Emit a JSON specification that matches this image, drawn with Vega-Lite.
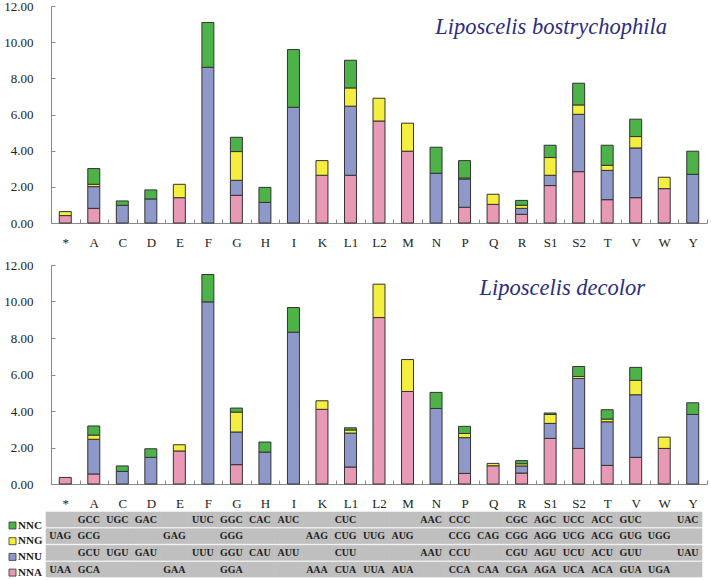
{
  "$schema": "https://vega.github.io/schema/vega-lite/v6.json",
  "padding": {"left": 3, "top": 0, "right": 0, "bottom": 0},
  "background": "white",
  "config": {
    "view": {"stroke": null},
    "axisX": {"labelAngle": 0, "labelFont": "Liberation Serif", "labelFontSize": 13, "labelColor": "#222", "domainColor": "#888", "tickColor": "#888", "tickBand": "extent", "tickSize": -4, "labelPadding": 17, "title": null, "grid": false},
    "axisY": {"labelFont": "Liberation Serif", "labelFontSize": 13, "labelColor": "#222", "domainColor": "#888", "ticks": true, "tickSize": -4, "tickColor": "#888", "labelPadding": 22, "title": null, "grid": false}
  },
  "datasets": {
    "classes": [
      {"cls": "NNA", "stackRank": 0}, {"cls": "NNU", "stackRank": 1}, {"cls": "NNG", "stackRank": 2}, {"cls": "NNC", "stackRank": 3}
    ],
    "bars": [
      {"sp": "LB", "aa": "*", "cls": "NNA", "v": 0.41}, {"sp": "LB", "aa": "*", "cls": "NNG", "v": 0.22},
      {"sp": "LB", "aa": "A", "cls": "NNA", "v": 0.81}, {"sp": "LB", "aa": "A", "cls": "NNU", "v": 1.20}, {"sp": "LB", "aa": "A", "cls": "NNG", "v": 0.13}, {"sp": "LB", "aa": "A", "cls": "NNC", "v": 0.87},
      {"sp": "LB", "aa": "C", "cls": "NNU", "v": 0.98}, {"sp": "LB", "aa": "C", "cls": "NNC", "v": 0.24},
      {"sp": "LB", "aa": "D", "cls": "NNU", "v": 1.33}, {"sp": "LB", "aa": "D", "cls": "NNC", "v": 0.50},
      {"sp": "LB", "aa": "E", "cls": "NNA", "v": 1.40}, {"sp": "LB", "aa": "E", "cls": "NNG", "v": 0.74},
      {"sp": "LB", "aa": "F", "cls": "NNU", "v": 8.61}, {"sp": "LB", "aa": "F", "cls": "NNC", "v": 2.48},
      {"sp": "LB", "aa": "G", "cls": "NNA", "v": 1.53}, {"sp": "LB", "aa": "G", "cls": "NNU", "v": 0.83}, {"sp": "LB", "aa": "G", "cls": "NNG", "v": 1.59}, {"sp": "LB", "aa": "G", "cls": "NNC", "v": 0.79},
      {"sp": "LB", "aa": "H", "cls": "NNU", "v": 1.14}, {"sp": "LB", "aa": "H", "cls": "NNC", "v": 0.83},
      {"sp": "LB", "aa": "I", "cls": "NNU", "v": 6.40}, {"sp": "LB", "aa": "I", "cls": "NNC", "v": 3.19},
      {"sp": "LB", "aa": "K", "cls": "NNA", "v": 2.64}, {"sp": "LB", "aa": "K", "cls": "NNG", "v": 0.81},
      {"sp": "LB", "aa": "L1", "cls": "NNA", "v": 2.64}, {"sp": "LB", "aa": "L1", "cls": "NNU", "v": 3.82}, {"sp": "LB", "aa": "L1", "cls": "NNG", "v": 1.01}, {"sp": "LB", "aa": "L1", "cls": "NNC", "v": 1.53},
      {"sp": "LB", "aa": "L2", "cls": "NNA", "v": 5.64}, {"sp": "LB", "aa": "L2", "cls": "NNG", "v": 1.26},
      {"sp": "LB", "aa": "M", "cls": "NNA", "v": 3.97}, {"sp": "LB", "aa": "M", "cls": "NNG", "v": 1.55},
      {"sp": "LB", "aa": "N", "cls": "NNU", "v": 2.75}, {"sp": "LB", "aa": "N", "cls": "NNC", "v": 1.44},
      {"sp": "LB", "aa": "P", "cls": "NNA", "v": 0.87}, {"sp": "LB", "aa": "P", "cls": "NNU", "v": 1.56}, {"sp": "LB", "aa": "P", "cls": "NNG", "v": 0.06}, {"sp": "LB", "aa": "P", "cls": "NNC", "v": 0.96},
      {"sp": "LB", "aa": "Q", "cls": "NNA", "v": 1.03}, {"sp": "LB", "aa": "Q", "cls": "NNG", "v": 0.56},
      {"sp": "LB", "aa": "R", "cls": "NNA", "v": 0.48}, {"sp": "LB", "aa": "R", "cls": "NNU", "v": 0.33}, {"sp": "LB", "aa": "R", "cls": "NNG", "v": 0.17}, {"sp": "LB", "aa": "R", "cls": "NNC", "v": 0.27},
      {"sp": "LB", "aa": "S1", "cls": "NNA", "v": 2.07}, {"sp": "LB", "aa": "S1", "cls": "NNU", "v": 0.57}, {"sp": "LB", "aa": "S1", "cls": "NNG", "v": 0.98}, {"sp": "LB", "aa": "S1", "cls": "NNC", "v": 0.68},
      {"sp": "LB", "aa": "S2", "cls": "NNA", "v": 2.84}, {"sp": "LB", "aa": "S2", "cls": "NNU", "v": 3.17}, {"sp": "LB", "aa": "S2", "cls": "NNG", "v": 0.52}, {"sp": "LB", "aa": "S2", "cls": "NNC", "v": 1.20},
      {"sp": "LB", "aa": "T", "cls": "NNA", "v": 1.29}, {"sp": "LB", "aa": "T", "cls": "NNU", "v": 1.62}, {"sp": "LB", "aa": "T", "cls": "NNG", "v": 0.28}, {"sp": "LB", "aa": "T", "cls": "NNC", "v": 1.11},
      {"sp": "LB", "aa": "V", "cls": "NNA", "v": 1.40}, {"sp": "LB", "aa": "V", "cls": "NNU", "v": 2.75}, {"sp": "LB", "aa": "V", "cls": "NNG", "v": 0.63}, {"sp": "LB", "aa": "V", "cls": "NNC", "v": 0.96},
      {"sp": "LB", "aa": "W", "cls": "NNA", "v": 1.90}, {"sp": "LB", "aa": "W", "cls": "NNG", "v": 0.63},
      {"sp": "LB", "aa": "Y", "cls": "NNU", "v": 2.69}, {"sp": "LB", "aa": "Y", "cls": "NNC", "v": 1.28},
      {"sp": "LD", "aa": "*", "cls": "NNA", "v": 0.36},
      {"sp": "LD", "aa": "A", "cls": "NNA", "v": 0.55}, {"sp": "LD", "aa": "A", "cls": "NNU", "v": 1.90}, {"sp": "LD", "aa": "A", "cls": "NNG", "v": 0.23}, {"sp": "LD", "aa": "A", "cls": "NNC", "v": 0.50},
      {"sp": "LD", "aa": "C", "cls": "NNU", "v": 0.69}, {"sp": "LD", "aa": "C", "cls": "NNC", "v": 0.30},
      {"sp": "LD", "aa": "D", "cls": "NNU", "v": 1.46}, {"sp": "LD", "aa": "D", "cls": "NNC", "v": 0.47},
      {"sp": "LD", "aa": "E", "cls": "NNA", "v": 1.81}, {"sp": "LD", "aa": "E", "cls": "NNG", "v": 0.34},
      {"sp": "LD", "aa": "F", "cls": "NNU", "v": 9.98}, {"sp": "LD", "aa": "F", "cls": "NNC", "v": 1.50},
      {"sp": "LD", "aa": "G", "cls": "NNA", "v": 1.06}, {"sp": "LD", "aa": "G", "cls": "NNU", "v": 1.79}, {"sp": "LD", "aa": "G", "cls": "NNG", "v": 1.09}, {"sp": "LD", "aa": "G", "cls": "NNC", "v": 0.22},
      {"sp": "LD", "aa": "H", "cls": "NNU", "v": 1.75}, {"sp": "LD", "aa": "H", "cls": "NNC", "v": 0.55},
      {"sp": "LD", "aa": "I", "cls": "NNU", "v": 8.32}, {"sp": "LD", "aa": "I", "cls": "NNC", "v": 1.35},
      {"sp": "LD", "aa": "K", "cls": "NNA", "v": 4.09}, {"sp": "LD", "aa": "K", "cls": "NNG", "v": 0.47},
      {"sp": "LD", "aa": "L1", "cls": "NNA", "v": 0.93}, {"sp": "LD", "aa": "L1", "cls": "NNU", "v": 1.86}, {"sp": "LD", "aa": "L1", "cls": "NNG", "v": 0.17}, {"sp": "LD", "aa": "L1", "cls": "NNC", "v": 0.12},
      {"sp": "LD", "aa": "L2", "cls": "NNA", "v": 9.12}, {"sp": "LD", "aa": "L2", "cls": "NNG", "v": 1.83},
      {"sp": "LD", "aa": "M", "cls": "NNA", "v": 5.07}, {"sp": "LD", "aa": "M", "cls": "NNG", "v": 1.75},
      {"sp": "LD", "aa": "N", "cls": "NNU", "v": 4.14}, {"sp": "LD", "aa": "N", "cls": "NNC", "v": 0.88},
      {"sp": "LD", "aa": "P", "cls": "NNA", "v": 0.58}, {"sp": "LD", "aa": "P", "cls": "NNU", "v": 1.96}, {"sp": "LD", "aa": "P", "cls": "NNG", "v": 0.23}, {"sp": "LD", "aa": "P", "cls": "NNC", "v": 0.39},
      {"sp": "LD", "aa": "Q", "cls": "NNA", "v": 1.00}, {"sp": "LD", "aa": "Q", "cls": "NNG", "v": 0.13},
      {"sp": "LD", "aa": "R", "cls": "NNA", "v": 0.60}, {"sp": "LD", "aa": "R", "cls": "NNU", "v": 0.39}, {"sp": "LD", "aa": "R", "cls": "NNG", "v": 0.12}, {"sp": "LD", "aa": "R", "cls": "NNC", "v": 0.17},
      {"sp": "LD", "aa": "S1", "cls": "NNA", "v": 2.50}, {"sp": "LD", "aa": "S1", "cls": "NNU", "v": 0.82}, {"sp": "LD", "aa": "S1", "cls": "NNG", "v": 0.49}, {"sp": "LD", "aa": "S1", "cls": "NNC", "v": 0.08},
      {"sp": "LD", "aa": "S2", "cls": "NNA", "v": 1.95}, {"sp": "LD", "aa": "S2", "cls": "NNU", "v": 3.83}, {"sp": "LD", "aa": "S2", "cls": "NNG", "v": 0.11}, {"sp": "LD", "aa": "S2", "cls": "NNC", "v": 0.55},
      {"sp": "LD", "aa": "T", "cls": "NNA", "v": 1.02}, {"sp": "LD", "aa": "T", "cls": "NNU", "v": 2.39}, {"sp": "LD", "aa": "T", "cls": "NNG", "v": 0.15}, {"sp": "LD", "aa": "T", "cls": "NNC", "v": 0.51},
      {"sp": "LD", "aa": "V", "cls": "NNA", "v": 1.46}, {"sp": "LD", "aa": "V", "cls": "NNU", "v": 3.43}, {"sp": "LD", "aa": "V", "cls": "NNG", "v": 0.79}, {"sp": "LD", "aa": "V", "cls": "NNC", "v": 0.71},
      {"sp": "LD", "aa": "W", "cls": "NNA", "v": 1.95}, {"sp": "LD", "aa": "W", "cls": "NNG", "v": 0.62},
      {"sp": "LD", "aa": "Y", "cls": "NNU", "v": 3.81}, {"sp": "LD", "aa": "Y", "cls": "NNC", "v": 0.64}
    ],
    "codons": [
      {"aa": "*", "NNC": "", "NNG": "UAG", "NNU": "", "NNA": "UAA"},
      {"aa": "A", "NNC": "GCC", "NNG": "GCG", "NNU": "GCU", "NNA": "GCA"},
      {"aa": "C", "NNC": "UGC", "NNG": "", "NNU": "UGU", "NNA": ""},
      {"aa": "D", "NNC": "GAC", "NNG": "", "NNU": "GAU", "NNA": ""},
      {"aa": "E", "NNC": "", "NNG": "GAG", "NNU": "", "NNA": "GAA"},
      {"aa": "F", "NNC": "UUC", "NNG": "", "NNU": "UUU", "NNA": ""},
      {"aa": "G", "NNC": "GGC", "NNG": "GGG", "NNU": "GGU", "NNA": "GGA"},
      {"aa": "H", "NNC": "CAC", "NNG": "", "NNU": "CAU", "NNA": ""},
      {"aa": "I", "NNC": "AUC", "NNG": "", "NNU": "AUU", "NNA": ""},
      {"aa": "K", "NNC": "", "NNG": "AAG", "NNU": "", "NNA": "AAA"},
      {"aa": "L1", "NNC": "CUC", "NNG": "CUG", "NNU": "CUU", "NNA": "CUA"},
      {"aa": "L2", "NNC": "", "NNG": "UUG", "NNU": "", "NNA": "UUA"},
      {"aa": "M", "NNC": "", "NNG": "AUG", "NNU": "", "NNA": "AUA"},
      {"aa": "N", "NNC": "AAC", "NNG": "", "NNU": "AAU", "NNA": ""},
      {"aa": "P", "NNC": "CCC", "NNG": "CCG", "NNU": "CCU", "NNA": "CCA"},
      {"aa": "Q", "NNC": "", "NNG": "CAG", "NNU": "", "NNA": "CAA"},
      {"aa": "R", "NNC": "CGC", "NNG": "CGG", "NNU": "CGU", "NNA": "CGA"},
      {"aa": "S1", "NNC": "AGC", "NNG": "AGG", "NNU": "AGU", "NNA": "AGA"},
      {"aa": "S2", "NNC": "UCC", "NNG": "UCG", "NNU": "UCU", "NNA": "UCA"},
      {"aa": "T", "NNC": "ACC", "NNG": "ACG", "NNU": "ACU", "NNA": "ACA"},
      {"aa": "V", "NNC": "GUC", "NNG": "GUG", "NNU": "GUU", "NNA": "GUA"},
      {"aa": "W", "NNC": "", "NNG": "UGG", "NNU": "", "NNA": "UGA"},
      {"aa": "Y", "NNC": "UAC", "NNG": "", "NNU": "UAU", "NNA": ""}
    ]
  },
  "bounds": "flush",
  "spacing": 42,
  "vconcat": [
    {
      "width": 656,
      "height": 217,
      "title": {"text": "Liposcelis bostrychophila", "anchor": "end", "frame": "group", "orient": "top", "offset": 0, "baseline": "alphabetic", "dy": 56, "dx": -40, "font": "Liberation Serif", "fontStyle": "italic", "fontWeight": "normal", "fontSize": 22.5, "color": "#2b2d80"},
      "data": {"name": "bars"},
      "transform": [
        {"filter": "datum.sp === 'LB'"},
        {"lookup": "cls", "from": {"data": {"name": "classes"}, "key": "cls", "fields": ["stackRank"]}}
      ],
      "mark": {"type": "bar", "stroke": "#333", "strokeWidth": 1, "width": {"band": 0.42}},
      "encoding": {
        "x": {"field": "aa", "type": "nominal", "scale": {"domain": ["*", "A", "C", "D", "E", "F", "G", "H", "I", "K", "L1", "L2", "M", "N", "P", "Q", "R", "S1", "S2", "T", "V", "W", "Y"], "paddingInner": 0, "paddingOuter": 0}, "title": null},
        "y": {"field": "v", "type": "quantitative", "stack": "zero", "scale": {"domain": [0, 12], "nice": false}, "axis": {"values": [0, 2, 4, 6, 8, 10, 12], "format": ".2f"}, "title": null},
        "order": {"field": "stackRank", "type": "quantitative", "sort": "ascending"},
        "color": {"field": "cls", "type": "nominal", "scale": {"domain": ["NNC", "NNG", "NNU", "NNA"], "range": ["#4db348", "#f4ee3e", "#8f99c9", "#e799b6"]},
          "legend": {"orient": "none", "legendX": -44, "legendY": 514, "title": null, "symbolType": "square", "symbolSize": 49, "symbolStrokeColor": "#333", "symbolStrokeWidth": 0.8, "labelFont": "Liberation Serif", "labelFontWeight": "bold", "labelFontSize": 11, "labelColor": "#222", "labelOffset": 0, "rowPadding": 3.7, "padding": 0}}
      }
    },
    {
      "width": 656,
      "height": 219,
      "title": {"text": "Liposcelis decolor", "anchor": "end", "frame": "group", "orient": "top", "offset": 0, "baseline": "alphabetic", "dy": 58, "dx": -62, "font": "Liberation Serif", "fontStyle": "italic", "fontWeight": "normal", "fontSize": 22.5, "color": "#2b2d80"},
      "data": {"name": "bars"},
      "transform": [
        {"filter": "datum.sp === 'LD'"},
        {"lookup": "cls", "from": {"data": {"name": "classes"}, "key": "cls", "fields": ["stackRank"]}}
      ],
      "mark": {"type": "bar", "stroke": "#333", "strokeWidth": 1, "width": {"band": 0.42}},
      "encoding": {
        "x": {"field": "aa", "type": "nominal", "scale": {"domain": ["*", "A", "C", "D", "E", "F", "G", "H", "I", "K", "L1", "L2", "M", "N", "P", "Q", "R", "S1", "S2", "T", "V", "W", "Y"], "paddingInner": 0, "paddingOuter": 0}, "title": null},
        "y": {"field": "v", "type": "quantitative", "stack": "zero", "scale": {"domain": [0, 12], "nice": false}, "axis": {"values": [0, 2, 4, 6, 8, 10, 12], "format": ".2f"}, "title": null},
        "order": {"field": "stackRank", "type": "quantitative", "sort": "ascending"},
        "color": {"field": "cls", "type": "nominal", "scale": {"domain": ["NNC", "NNG", "NNU", "NNA"], "range": ["#4db348", "#f4ee3e", "#8f99c9", "#e799b6"]},
          "legend": {"orient": "none", "legendX": -44, "legendY": 514, "title": null, "symbolType": "square", "symbolSize": 49, "symbolStrokeColor": "#333", "symbolStrokeWidth": 0.8, "labelFont": "Liberation Serif", "labelFontWeight": "bold", "labelFontSize": 11, "labelColor": "#222", "labelOffset": 0, "rowPadding": 3.7, "padding": 0}}
      }
    },
    {
      "width": 656,
      "height": 51,
      "data": {"name": "codons"},
      "transform": [{"fold": ["NNC", "NNG", "NNU", "NNA"], "as": ["cls", "codon"]}],
      "encoding": {
        "x": {"field": "aa", "type": "nominal", "scale": {"domain": ["*", "A", "C", "D", "E", "F", "G", "H", "I", "K", "L1", "L2", "M", "N", "P", "Q", "R", "S1", "S2", "T", "V", "W", "Y"], "range": [-5, 651], "paddingInner": 0, "paddingOuter": 0}, "axis": null},
        "y": {"field": "cls", "type": "nominal", "scale": {"domain": ["NNC", "NNG", "NNU", "NNA"], "range": [-14, 51], "paddingInner": 0.1, "paddingOuter": 0}, "axis": null}
      },
      "layer": [
        {"mark": {"type": "rect", "fill": "#bfbfbf", "stroke": "#bfbfbf", "strokeWidth": 0.6}},
        {"mark": {"type": "text", "font": "Liberation Serif", "fontWeight": "bold", "fontSize": 10, "color": "#222"}, "encoding": {"text": {"field": "codon"}}}
      ]
    }
  ]
}
